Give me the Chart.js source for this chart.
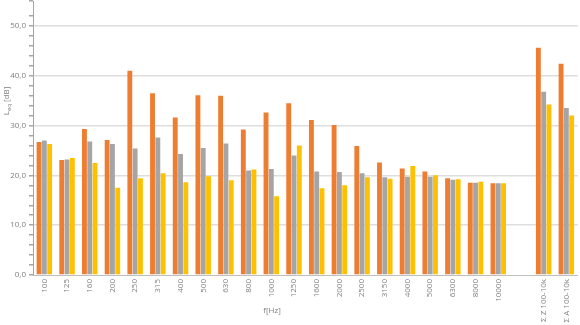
<!DOCTYPE html>
<html lang="de">
<head>
    <meta charset="UTF-8">
    <title>Leq je Terzband</title>
    <script src="https://cdn.jsdelivr.net/npm/chart.js"></script>
    <style>
        html, body { margin: 0; padding: 0; background: #fff; }
        .wrap { width: 580px; height: 325px; position: relative; }
    </style>
</head>
<body>
    <div class="wrap">
        <canvas id="chart"></canvas>
    </div>

    <script>
        const bands = ['100', '125', '160', '200', '250', '315', '400', '500', '630', '800',
            '1000', '1250', '1600', '2000', '2500', '3150', '4000', '5000', '6300', '8000',
            '10000', '', 'Σ Z 100-10k', 'Σ A 100-10k'];

        const series1 = [26.7, 23.1, 29.3, 27.1, 41.0, 36.5, 31.6, 36.1, 36.0, 29.2,
            32.6, 34.5, 31.1, 30.1, 25.9, 22.6, 21.4, 20.8, 19.4, 18.5,
            18.4, null, 45.6, 42.4];
        const series2 = [27.0, 23.2, 26.8, 26.3, 25.4, 27.6, 24.3, 25.5, 26.4, 21.0,
            21.3, 24.0, 20.8, 20.7, 20.4, 19.6, 19.7, 19.7, 19.1, 18.5,
            18.4, null, 36.8, 33.5];
        const series3 = [26.3, 23.5, 22.5, 17.5, 19.4, 20.4, 18.6, 19.8, 19.0, 21.2,
            15.8, 26.0, 17.4, 18.0, 19.6, 19.3, 21.9, 20.0, 19.2, 18.7,
            18.4, null, 34.2, 32.0];

        const yTicks = [0, 10, 20, 30, 40, 50];

        const textGray = '#7f7f7f';

        // axis titles drawn by hand (subscript in L_eq)
        const axisTitles = {
            id: 'axisTitles',
            afterDraw(chart) {
                const c = chart.ctx;
                c.save();
                c.fillStyle = textGray;
                c.textBaseline = 'middle';
                c.font = '8px "Open Sans", sans-serif';
                c.textAlign = 'center';
                c.fillText('f[Hz]', 272, 311);

                c.translate(7, 101);
                c.rotate(-Math.PI / 2);
                c.textAlign = 'left';
                const w1 = c.measureText('L').width;
                c.font = '6px "Open Sans", sans-serif';
                const w2 = c.measureText('eq').width;
                c.font = '8px "Open Sans", sans-serif';
                const w3 = c.measureText(' [dB]').width;
                let x = -(w1 + w2 + w3) / 2;
                c.fillText('L', x, 0);
                x += w1;
                c.font = '6px "Open Sans", sans-serif';
                c.fillText('eq', x, 2);
                x += w2;
                c.font = '8px "Open Sans", sans-serif';
                c.fillText(' [dB]', x, 0);
                c.restore();
            }
        };

        const ctx = document.getElementById('chart').getContext('2d');
        new Chart(ctx, {
            type: 'bar',
            data: {
                labels: bands,
                datasets: [{
                    label: 'Reihe 1',
                    data: series1,
                    backgroundColor: '#ed7d31'
                }, {
                    label: 'Reihe 2',
                    data: series2,
                    backgroundColor: '#a5a5a5'
                }, {
                    label: 'Reihe 3',
                    data: series3,
                    backgroundColor: '#ffc000'
                }]
            },
            options: {
                responsive: true,
                maintainAspectRatio: false,
                animation: false,
                datasets: {
                    bar: { categoryPercentage: 0.7, barPercentage: 0.92 }
                },
                layout: { padding: { top: 1, right: 2, left: 0, bottom: 0 } },
                plugins: {
                    legend: { display: false },
                    tooltip: { enabled: false }
                },
                scales: {
                    x: {
                        grid: { drawOnChartArea: false, drawTicks: false },
                        border: { color: '#bfbfbf' },
                        ticks: {
                            autoSkip: false,
                            minRotation: 90,
                            maxRotation: 90,
                            padding: 4,
                            color: textGray,
                            font: { family: '"Open Sans", sans-serif', size: 8 }
                        },
                        afterFit(scale) { scale.height = 50; }
                    },
                    y: {
                        min: 0,
                        max: 55,
                        grid: {
                            color: (c) => (c.tick && yTicks.includes(c.tick.value) && c.tick.value > 0) ? '#dedede' : 'transparent',
                            tickColor: '#a6a6a6',
                            tickLength: 4,
                            lineWidth: 1.5
                        },
                        border: { color: '#a6a6a6' },
                        ticks: {
                            stepSize: 2,
                            autoSkip: false,
                            padding: 3,
                            color: textGray,
                            font: { family: '"Open Sans", sans-serif', size: 8 },
                            callback: (v) => yTicks.includes(v) ? v.toFixed(1).replace('.', ',') : ''
                        },
                        afterFit(scale) {
                            scale.width = 33;
                            scale.paddingTop = 0;
                            scale.paddingBottom = 0;
                        }
                    }
                }
            },
            plugins: [axisTitles]
        });
    </script>
</body>
</html>
